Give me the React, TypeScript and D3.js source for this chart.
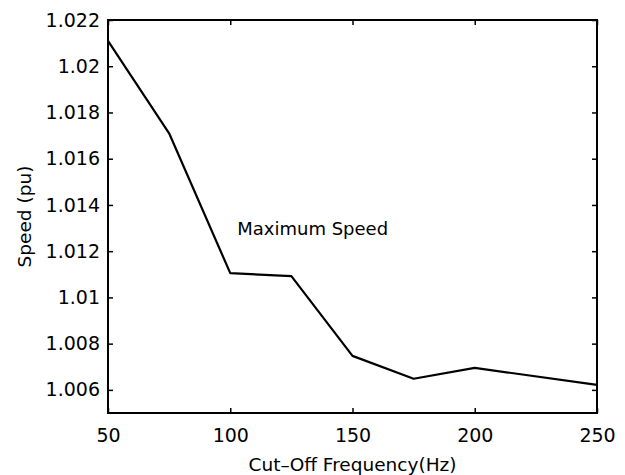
import React, { useRef, useEffect } from "react";
import { select, scaleLinear, axisBottom, axisLeft, axisTop, axisRight, line } from "d3";

// cut-off frequency (Hz) vs maximum speed (pu)
const frequencies = [50, 75, 100, 125, 150, 175, 200, 250];
const speeds = [1.0211, 1.0171, 1.01105, 1.01092, 1.00747, 1.00648, 1.00695, 1.00622];

const xTicks = [50, 100, 150, 200, 250];
const yTicks = [1.006, 1.008, 1.01, 1.012, 1.014, 1.016, 1.018, 1.02, 1.022];
const yTickLabels = ["1.006", "1.008", "1.01", "1.012", "1.014", "1.016", "1.018", "1.02", "1.022"];

const seriesLabel = "Maximum Speed";
const xTitle = "Cut\u2013Off Frequency(Hz)";
const yTitle = "Speed (pu)";

const W = 625;
const H = 475;
const margin = { top: 20, right: 28, bottom: 62, left: 108 };
const FONT = "'DejaVu Sans', sans-serif";

function SpeedChart() {
  const svgRef = useRef<SVGSVGElement>(null);

  useEffect(() => {
    const svg = select(svgRef.current);
    svg.selectAll("*").remove();

    const innerW = W - margin.left - margin.right;
    const innerH = H - margin.top - margin.bottom;

    const xScale = scaleLinear().domain([50, 250]).range([0, innerW]);
    const yScale = scaleLinear().domain([1.005, 1.022]).range([innerH, 0]);

    const g = svg.append("g").attr("transform", `translate(${margin.left},${margin.top})`);

    // inward ticks on all four sides, matlab style
    const bottom = g.append("g")
      .attr("transform", `translate(0,${innerH})`)
      .call(axisBottom(xScale).tickValues(xTicks).tickSizeInner(-5).tickSizeOuter(0).tickPadding(16).tickFormat(d => String(d)));
    const top = g.append("g")
      .call(axisTop(xScale).tickValues(xTicks).tickSizeInner(-5).tickSizeOuter(0).tickFormat(() => ""));
    const left = g.append("g")
      .call(axisLeft(yScale).tickValues(yTicks).tickSizeInner(-5).tickSizeOuter(0).tickPadding(8)
        .tickFormat((d, i) => yTickLabels[i]));
    const right = g.append("g")
      .attr("transform", `translate(${innerW},0)`)
      .call(axisRight(yScale).tickValues(yTicks).tickSizeInner(-5).tickSizeOuter(0).tickFormat(() => ""));

    [bottom, top, left, right].forEach(ax => {
      ax.select(".domain").remove();
      ax.selectAll("line").attr("stroke", "#000").attr("stroke-width", 1.5);
      ax.selectAll("text")
        .attr("fill", "#000")
        .style("font-family", FONT)
        .style("font-size", "19px");
    });

    g.append("rect")
      .attr("width", innerW)
      .attr("height", innerH)
      .attr("fill", "none")
      .attr("stroke", "#000")
      .attr("stroke-width", 2);

    const path = line<number>()
      .x((d, i) => xScale(frequencies[i]))
      .y(d => yScale(d));

    g.append("path")
      .datum(speeds)
      .attr("d", path)
      .attr("fill", "none")
      .attr("stroke", "#000")
      .attr("stroke-width", 2.2)
      .attr("stroke-linejoin", "round");

    g.append("text")
      .attr("x", xScale(100) + 7)
      .attr("y", yScale(1.0127))
      .style("font-family", FONT)
      .style("font-size", "18px")
      .text(seriesLabel);

    svg.append("text")
      .attr("x", margin.left + innerW / 2)
      .attr("y", 471)
      .attr("text-anchor", "middle")
      .style("font-family", FONT)
      .style("font-size", "18.5px")
      .text(xTitle);

    svg.append("text")
      .attr("transform", `translate(31,${margin.top + innerH / 2}) rotate(-90)`)
      .attr("text-anchor", "middle")
      .style("font-family", FONT)
      .style("font-size", "18.5px")
      .text(yTitle);
  }, []);

  return <svg ref={svgRef} width={W} height={H} style={{ display: "block", background: "#fff" }} />;
}

export default function App() {
  return (
    <div style={{ position: "absolute", left: 0, top: 0 }}>
      <SpeedChart />
    </div>
  );
}
